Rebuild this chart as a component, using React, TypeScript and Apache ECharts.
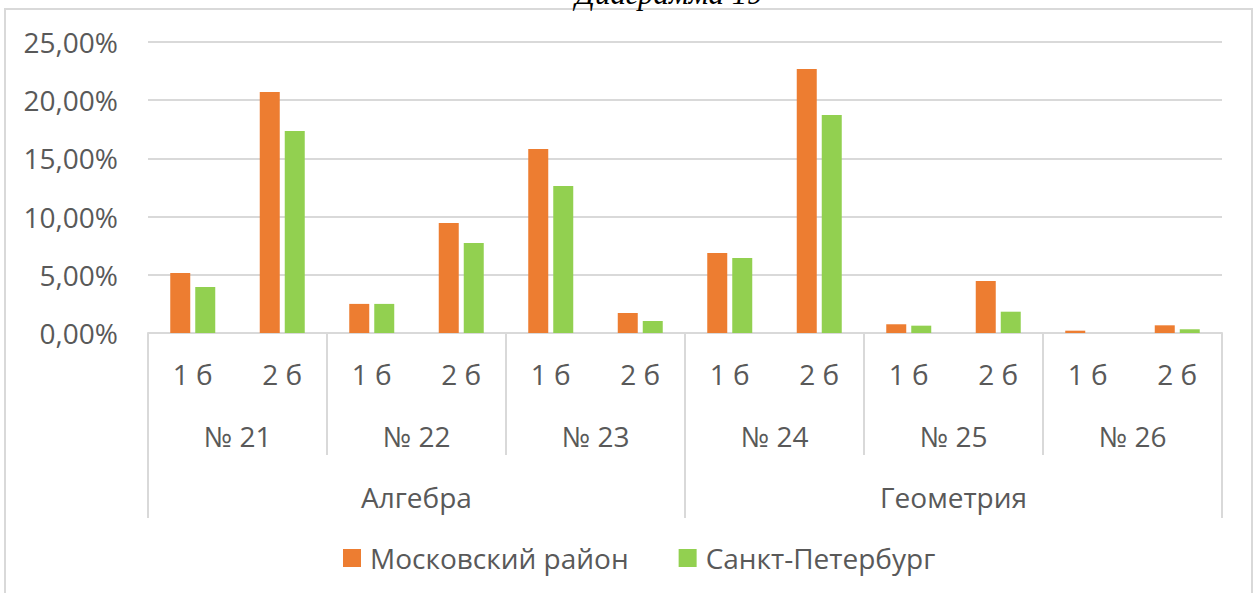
import React, { useEffect, useRef } from "react";
import * as echarts from "echarts";

const subCategories = ["1 б", "2 б", "1 б", "2 б", "1 б", "2 б", "1 б", "2 б", "1 б", "2 б", "1 б", "2 б"];
const taskCategories = ["№ 21", "№ 22", "№ 23", "№ 24", "№ 25", "№ 26"];
const sectionCategories = ["Алгебра", "Геометрия"];
const seriesNames = ["Московский район", "Санкт-Петербург"];
const moscowDistrict = [5.15, 20.7, 2.5, 9.45, 15.8, 1.72, 6.87, 22.68, 0.75, 4.47, 0.2, 0.66];
const saintPetersburg = [3.95, 17.35, 2.5, 7.73, 12.63, 1.03, 6.44, 18.73, 0.63, 1.83, 0, 0.32];
const yTicks = [0, 5, 10, 15, 20, 25];

const FONT = "Open Sans";
const FS = 28;
const TEXT_COLOR = "#595959";
const LINE_COLOR = "#d9d9d9";

export default function App() {
  const ref = useRef<HTMLDivElement>(null);
  useEffect(() => {
    if (!ref.current) return;
    const chart = echarts.init(ref.current, undefined, { renderer: "svg" });
    const label = (margin: number) => ({
      margin,
      fontSize: FS,
      color: TEXT_COLOR,
      fontFamily: FONT,
      lineHeight: FS,
    });
    chart.setOption({
      animation: false,
      textStyle: { fontFamily: FONT },
      graphic: [
        {
          type: "rect",
          shape: { x: 5, y: 9, width: 1247, height: 620 },
          style: { fill: "none", stroke: LINE_COLOR, lineWidth: 2 },
          silent: true,
        },
        {
          type: "text",
          x: 669,
          y: -7,
          style: {
            text: "Диаграмма 19",
            font: "italic 31px 'Liberation Serif'",
            fill: "#000",
            textAlign: "center",
            textVerticalAlign: "middle",
          },
        },
      ],
      grid: { left: 148, right: 35, top: 42, bottom: 260 },
      legend: {
        data: seriesNames,
        top: 539,
        left: 338,
        icon: "rect",
        itemWidth: 18,
        itemHeight: 18,
        itemGap: 50,
        textStyle: { fontSize: FS, color: TEXT_COLOR, fontFamily: FONT, padding: [0, 0, 0, 4] },
      },
      xAxis: [
        {
          type: "category",
          data: subCategories,
          position: "bottom",
          axisLine: { show: true, lineStyle: { color: LINE_COLOR, width: 2 } },
          axisTick: { show: false },
          axisLabel: label(27),
        },
        {
          type: "category",
          data: taskCategories,
          position: "bottom",
          axisLine: { show: false },
          axisTick: { show: true, length: 122, lineStyle: { color: LINE_COLOR, width: 2 } },
          axisLabel: label(89),
        },
        {
          type: "category",
          data: sectionCategories,
          position: "bottom",
          axisLine: { show: false },
          axisTick: { show: true, length: 185, lineStyle: { color: LINE_COLOR, width: 2 } },
          axisLabel: label(150),
        },
      ],
      yAxis: {
        type: "value",
        min: yTicks[0],
        max: yTicks[yTicks.length - 1],
        interval: 5,
        axisLine: { show: false },
        axisTick: { show: false },
        splitLine: { lineStyle: { color: LINE_COLOR, width: 2 } },
        axisLabel: {
          margin: 30,
          fontSize: FS,
          color: TEXT_COLOR,
          fontFamily: FONT,
          formatter: (v: number) => v.toFixed(2).replace(".", ",") + "%",
        },
      },
      series: [
        {
          name: seriesNames[0],
          type: "bar",
          xAxisIndex: 0,
          data: moscowDistrict,
          barWidth: 20,
          barGap: "25%",
          itemStyle: { color: "#ED7D31" },
        },
        {
          name: seriesNames[1],
          type: "bar",
          xAxisIndex: 0,
          data: saintPetersburg,
          barWidth: 20,
          barGap: "25%",
          itemStyle: { color: "#92D050" },
        },
      ],
    });
    return () => chart.dispose();
  }, []);
  return (
    <div
      ref={ref}
      style={{ position: "fixed", left: 0, top: 0, width: 1257, height: 593, background: "#fff" }}
    />
  );
}
